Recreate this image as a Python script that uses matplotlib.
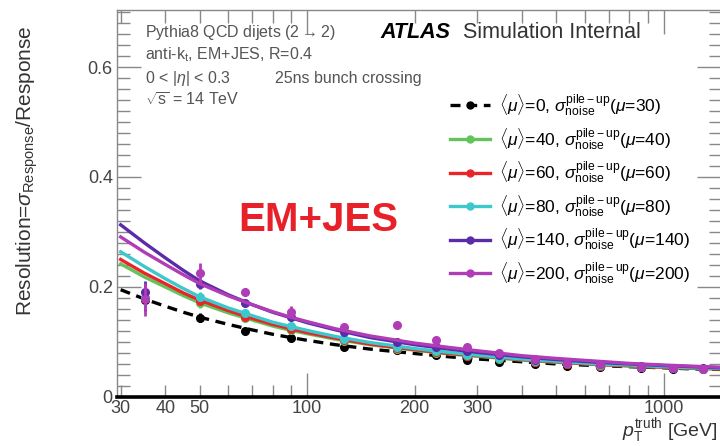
import matplotlib
matplotlib.use("Agg")
import matplotlib.pyplot as plt
from matplotlib.lines import Line2D
from matplotlib.ticker import FixedLocator, MultipleLocator, FuncFormatter

plt.rcParams['font.family'] = ['Liberation Sans', 'DejaVu Sans']
plt.rcParams['mathtext.fontset'] = 'custom'
plt.rcParams['mathtext.rm'] = 'Liberation Sans'
plt.rcParams['mathtext.it'] = 'Liberation Sans:italic'
plt.rcParams['mathtext.bf'] = 'Liberation Sans:bold'

# pT bins of the measured points
pt_bins = [35, 50, 67, 90, 127, 179, 229, 280, 344, 434, 534, 662, 864, 1060, 1287]

# measured resolution per pile-up scenario
res_mu0   = [0.176, 0.144, 0.120, 0.107, 0.091, 0.085, 0.076, 0.067, 0.064, 0.060, 0.057, 0.055, 0.053, 0.051, 0.050]
res_mu40  = [0.180, 0.170, 0.143, 0.122, 0.101, 0.088, 0.080, 0.074, 0.069, 0.064, 0.060, 0.057, 0.054, 0.052, 0.051]
res_mu60  = [0.180, 0.175, 0.146, 0.124, 0.103, 0.089, 0.081, 0.075, 0.070, 0.064, 0.060, 0.057, 0.054, 0.052, 0.051]
res_mu80  = [0.180, 0.182, 0.152, 0.129, 0.106, 0.091, 0.083, 0.077, 0.071, 0.065, 0.061, 0.058, 0.055, 0.053, 0.051]
res_mu140 = [0.190, 0.205, 0.170, 0.145, 0.118, 0.100, 0.090, 0.083, 0.076, 0.068, 0.063, 0.059, 0.056, 0.053, 0.052]
res_mu200 = [0.178, 0.225, 0.191, 0.155, 0.127, 0.131, 0.104, 0.091, 0.080, 0.069, 0.062, 0.060, 0.055, 0.053, 0.051]

err_small = [0.020, 0.008, 0.005, 0.005, 0.004, 0.003, 0.003, 0.002, 0.002, 0.002, 0.002, 0.002, 0.002, 0.002, 0.002]
err_mu200 = [0.030, 0.018, 0.008, 0.010, 0.007, 0.006, 0.005, 0.004, 0.004, 0.003, 0.003, 0.003, 0.003, 0.003, 0.003]

pt_fit    = [30, 35, 40, 45, 50, 60, 70, 80, 90, 100, 120, 150, 200, 250, 300, 400, 500, 650, 800, 1000, 1200, 1450]
fit_mu0   = [.195, .178, .165, .154, .145, .132, .122, .114, .108, .103, .095, .087, .079, .073, .069, .064, .060, .057, .055, .053, .051, .050]
fit_mu40  = [.242, .218, .200, .184, .171, .153, .140, .129, .121, .115, .105, .095, .085, .078, .074, .067, .063, .059, .056, .054, .052, .051]
fit_mu60  = [.250, .225, .206, .189, .176, .157, .143, .132, .124, .117, .107, .096, .086, .079, .075, .068, .064, .059, .057, .054, .052, .051]
fit_mu80  = [.264, .237, .215, .197, .182, .162, .148, .136, .128, .121, .110, .099, .088, .081, .076, .069, .065, .060, .058, .055, .053, .052]
fit_mu140 = [.313, .280, .253, .230, .211, .186, .168, .154, .144, .135, .122, .108, .095, .087, .081, .073, .068, .063, .060, .057, .055, .053]
fit_mu200 = [.291, .263, .241, .222, .206, .184, .168, .155, .145, .137, .124, .111, .098, .090, .084, .075, .070, .065, .061, .058, .056, .054]

mu_avg  = [0, 40, 60, 80, 140, 200]
mu_sig  = [30, 40, 60, 80, 140, 200]
colors  = ['black', '#62c45a', '#e8262a', '#3cc8cc', '#5a2ca8', '#b03cb8']

points = [res_mu0, res_mu40, res_mu60, res_mu80, res_mu140, res_mu200]
errors = [err_small, err_small, err_small, err_small, err_small, err_mu200]
fits   = [fit_mu0, fit_mu40, fit_mu60, fit_mu80, fit_mu140, fit_mu200]

fig = plt.figure(figsize=(7.2, 4.46), dpi=100)
ax = fig.add_axes([0.1625, 0.110, 0.8395, 0.868])

handles = []
labels = []
for i in range(len(mu_avg)):
    ls = (0, (3, 2)) if i == 0 else '-'
    ax.plot(pt_fit, fits[i], color=colors[i], lw=2.4, ls=ls, zorder=3 + i)
    ax.errorbar(pt_bins, points[i], yerr=errors[i], fmt='o', ms=5.5, color=colors[i],
                elinewidth=2, capsize=0, zorder=3 + i)
    handles.append(Line2D([0], [0], color=colors[i], lw=2.4, ls=ls, marker='o', ms=5))
    labels.append(r"$\langle\mu\rangle$=%d, $\sigma^{\rm pile-up}_{\rm noise}$($\mu$=%d)" % (mu_avg[i], mu_sig[i]))

ax.set_xscale('log')
ax.set_xlim(29.3, 1450)
ax.set_ylim(0, 0.704)

# ticks in ROOT style
ax.xaxis.set_major_locator(FixedLocator([100, 1000]))
ax.xaxis.set_minor_locator(FixedLocator([30, 40, 50, 60, 70, 80, 90, 200, 300, 400, 500, 600, 700, 800, 900]))
ax.xaxis.set_major_formatter(FuncFormatter(lambda v, p: "%d" % v))
ax.xaxis.set_minor_formatter(FuncFormatter(lambda v, p: "%d" % v if v in (30, 40, 50, 200, 300) else ""))
ax.yaxis.set_major_locator(MultipleLocator(0.2))
ax.yaxis.set_minor_locator(MultipleLocator(0.02))
ax.yaxis.set_major_formatter(FuncFormatter(lambda v, p: "0" if v == 0 else "%.1f" % v))

ax.tick_params(which='both', direction='in', top=True, right=True, color='#888888',
               labelcolor='#444444', labelsize=13)
ax.tick_params(which='major', length=17, width=1)
ax.tick_params(which='minor', length=9, width=1)
ax.tick_params(axis='x', which='both', pad=2)
ax.tick_params(axis='y', which='both', pad=3)
for s in ['left', 'top', 'right']:
    ax.spines[s].set_color('#888888')
    ax.spines[s].set_linewidth(1)
ax.spines['bottom'].set_color('black')
ax.spines['bottom'].set_linewidth(2.6)

ax.set_ylabel(r"Resolution=$\sigma_{\rm Response}$/Response", fontsize=15, color='#333333')
ax.yaxis.set_label_coords(-0.128, 0.585)
fig.text(0.997, 0.002, r"$p_{\rm T}^{\rm truth}$ [GeV]", ha='right', va='bottom', fontsize=14, color='#333333')

# annotations
gray = '#555555'
fig.text(145 / 720, 1 - 33 / 446, r"Pythia8 QCD dijets (2$\rightarrow$2)", fontsize=11.5, color=gray, va='center')
fig.text(145 / 720, 1 - 55 / 446, r"anti-k$_{\rm t}$, EM+JES, R=0.4", fontsize=11.5, color=gray, va='center')
fig.text(145 / 720, 1 - 78 / 446, r"0 < |$\eta$| < 0.3", fontsize=11.5, color=gray, va='center')
fig.text(275 / 720, 1 - 78 / 446, "25ns bunch crossing", fontsize=11.5, color=gray, va='center')
fig.text(145 / 720, 1 - 100 / 446, r"$\sqrt{\rm s}$ = 14 TeV", fontsize=11.5, color=gray, va='center')
fig.text(380 / 720, 1 - 33 / 446, "ATLAS", fontsize=15.5, fontweight='bold', style='italic', color='black', va='center')
fig.text(463 / 720, 1 - 33 / 446, "Simulation Internal", fontsize=15.5, color='#333333', va='center')

fig.text(318 / 720, 1 - 220 / 446, "EM+JES", fontsize=29, fontweight='bold', color='#e8202a', ha='center', va='center')

leg = ax.legend(handles, labels, loc='upper left', bbox_to_anchor=(0.54, 0.805), frameon=False,
                fontsize=12.5, handlelength=2.3, handletextpad=0.5, labelspacing=0.45, borderaxespad=0)

fig.savefig("out.png", dpi=100)
